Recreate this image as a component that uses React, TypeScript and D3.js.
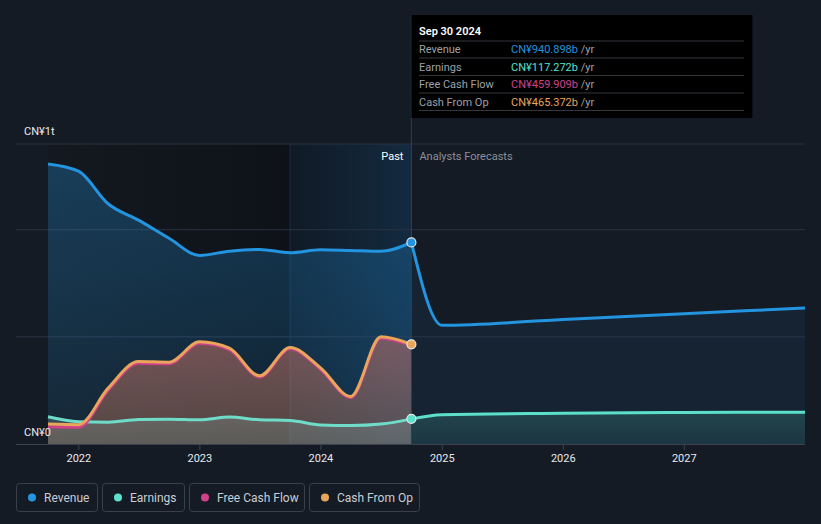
import * as d3 from 'd3'

const W = 821
const H = 524

// past quarterly values, CN¥ billions
const pastDates = ['2021-09-30', '2021-12-31', '2022-03-31', '2022-06-30', '2022-09-30', '2022-12-31', '2023-03-31', '2023-06-30', '2023-09-30', '2023-12-31', '2024-03-31', '2024-06-30', '2024-09-30']
const revenue = [1307, 1273, 1120, 1045, 960, 880, 900, 908, 893, 907, 903, 899, 940.898]
const earnings = [127, 104, 102, 114, 116, 113, 126, 113, 110, 89, 86, 93, 117.272]
const freeCashFlow = [80, 78, 252, 377, 375, 470, 440, 312, 444, 349, 216, 494, 459.909]
const cashFromOp = [93, 90, 262, 385, 382, 477, 447, 318, 450, 355, 222, 500, 465.372]

// analyst forecasts
const fcDates = ['2024-09-30', '2024-12-31', '2025-12-31', '2026-12-31', '2027-12-31']
const revenueFc = [940.898, 554, 581, 608, 635]
const earningsFc = [117.272, 137, 143, 147, 148]

const yearTicks = ['2022', '2023', '2024', '2025', '2026', '2027']

const tooltipRows = [
  ['Revenue', 'CN¥940.898b', '#2394df'],
  ['Earnings', 'CN¥117.272b', '#5ce0cc'],
  ['Free Cash Flow', 'CN¥459.909b', '#d0418a'],
  ['Cash From Op', 'CN¥465.372b', '#e9a55a'],
]

const legendItems = [
  ['Revenue', '#2394df', 16, 81],
  ['Earnings', '#5ce0cc', 102, 82],
  ['Free Cash Flow', '#d0418a', 189, 115],
  ['Cash From Op', '#e9a55a', 309, 110],
]

const parse = d3.timeParse('%Y-%m-%d')

export default function App() {
  const x = d3.scaleTime()
    .domain([parse('2021-09-30')!, parse('2027-12-31')!])
    .range([48, 805])
  const y = d3.scaleLinear().domain([0, 1400]).range([444, 144])

  const pd = pastDates.map(d => parse(d)!)
  const fd = fcDates.map(d => parse(d)!)
  const xNow = x(pd[pd.length - 1])
  const xYear = x(pd[8])

  const line = d3.line<[Date, number]>().x(d => x(d[0])).y(d => y(d[1])).curve(d3.curveMonotoneX)
  const area = d3.area<[Date, number]>().x(d => x(d[0])).y0(y(0)).y1(d => y(d[1])).curve(d3.curveMonotoneX)

  const zip = (ds: Date[], vs: number[]) => ds.map((d, i) => [d, vs[i]] as [Date, number])

  const font = 'Roboto, "Noto Sans", sans-serif'

  return (
    <svg width={W} height={H} style={{ position: 'absolute', left: 0, top: 0, background: '#151b25', fontFamily: font }}>
      <defs>
        <linearGradient id="pastBg" x1="0" x2="1" y1="0" y2="0">
          <stop offset="0" stopColor="#141920" />
          <stop offset="1" stopColor="#0e1218" />
        </linearGradient>
        <linearGradient id="yearBg" x1="0" x2="1" y1="0" y2="0">
          <stop offset="0" stopColor="#101a25" />
          <stop offset="1" stopColor="#132a40" />
        </linearGradient>
        <linearGradient id="revFill" x1="0" x2="0" y1="0" y2="1">
          <stop offset="0" stopColor="#2394df" stopOpacity={0.3} />
          <stop offset="1" stopColor="#2394df" stopOpacity={0.12} />
        </linearGradient>
        <linearGradient id="cfoFill" x1="0" x2="0" y1="0" y2="1">
          <stop offset="0" stopColor="#e9a55a" stopOpacity={0.35} />
          <stop offset="1" stopColor="#e9a55a" stopOpacity={0.25} />
        </linearGradient>
        <linearGradient id="fcfFill" x1="0" x2="0" y1="0" y2="1">
          <stop offset="0" stopColor="#d0418a" stopOpacity={0.2} />
          <stop offset="1" stopColor="#d0418a" stopOpacity={0.05} />
        </linearGradient>
        <linearGradient id="earnFill" x1="0" x2="0" y1="0" y2="1">
          <stop offset="0" stopColor="#8fb5b5" stopOpacity={0.25} />
          <stop offset="1" stopColor="#8fb5b5" stopOpacity={0.2} />
        </linearGradient>
        <linearGradient id="earnFcFill" x1="0" x2="0" y1="0" y2="1">
          <stop offset="0" stopColor="#5ce0cc" stopOpacity={0.18} />
          <stop offset="1" stopColor="#5ce0cc" stopOpacity={0.1} />
        </linearGradient>
      </defs>

      {/* past shading */}
      <rect x={48} y={144} width={xYear - 48} height={300} fill="url(#pastBg)" />
      <rect x={xYear} y={144} width={xNow - xYear} height={300} fill="url(#yearBg)" />
      <line x1={xYear} x2={xYear} y1={144} y2={444} stroke="#1c2e40" strokeWidth={1} />

      {/* gridlines */}
      {[500, 1000, 1400].map(v => (
        <line key={v} x1={16} x2={805} y1={y(v)} y2={y(v)} stroke="#2b3240" strokeWidth={1} />
      ))}

      {/* forecast areas */}
      <path d={area(zip(fd, revenueFc))!} fill="#2394df" fillOpacity={0.07} />
      <path d={area(zip(fd, earningsFc))!} fill="url(#earnFcFill)" />

      {/* past areas */}
      <path d={area(zip(pd, revenue))!} fill="url(#revFill)" />
      <path d={area(zip(pd, cashFromOp))!} fill="url(#cfoFill)" />
      <path d={area(zip(pd, freeCashFlow))!} fill="url(#fcfFill)" />
      <path d={area(zip(pd, earnings))!} fill="url(#earnFill)" />

      {/* today marker */}
      <line x1={xNow} x2={xNow} y1={15} y2={444} stroke="#24425e" strokeWidth={1} />

      {/* lines */}
      <path d={line(zip(fd, revenueFc))!} fill="none" stroke="#2394df" strokeWidth={3} />
      <path d={line(zip(fd, earningsFc))!} fill="none" stroke="#5ce0cc" strokeWidth={3} />
      <path d={line(zip(pd, revenue))!} fill="none" stroke="#2394df" strokeWidth={3} />
      <path d={line(zip(pd, earnings))!} fill="none" stroke="#6fdcc9" strokeWidth={3} />
      <path d={line(zip(pd, freeCashFlow))!} fill="none" stroke="#d0418a" strokeWidth={3} />
      <path d={line(zip(pd, cashFromOp))!} fill="none" stroke="#e9a55a" strokeWidth={3} />

      {/* end dots */}
      {[
        [revenue[12], '#2394df'],
        [cashFromOp[12], '#e9a55a'],
        [earnings[12], '#5ce0cc'],
      ].map(([v, c]) => (
        <circle key={c as string} cx={xNow} cy={y(v as number)} r={4.5} fill={c as string} stroke="#e6e8ea" strokeWidth={1.2} />
      ))}

      {/* axis */}
      <line x1={16} x2={805} y1={444.5} y2={444.5} stroke="#3a4150" strokeWidth={1} />
      {yearTicks.map(t => {
        const xx = x(parse(`${t}-01-01`)!)
        return (
          <g key={t}>
            <line x1={xx} x2={xx} y1={445} y2={450} stroke="#3a4150" />
            <text x={xx} y={462} textAnchor="middle" fill="#e8eaed" fontSize={11}>{t}</text>
          </g>
        )
      })}

      <text x={24} y={135} fill="#e8eaed" fontSize={11}>CN¥1t</text>
      <text x={24} y={436} fill="#e8eaed" fontSize={11}>CN¥0</text>

      <text x={xNow - 8} y={160} textAnchor="end" fill="#ffffff" fontSize={11}>Past</text>
      <text x={xNow + 8} y={160} fill="#8a9099" fontSize={11}>Analysts Forecasts</text>

      {/* tooltip */}
      <rect x={xNow} y={15} width={341} height={103} fill="#000000" />
      <text x={419} y={35} fill="#ffffff" fontSize={11} fontWeight={600}>Sep 30 2024</text>
      {[41, 58, 75.5, 93, 110.5].map(ly => (
        <line key={ly} x1={419} x2={744} y1={ly} y2={ly} stroke="#34373c" strokeWidth={1} />
      ))}
      {tooltipRows.map(([label, val, c], i) => (
        <g key={label}>
          <text x={419} y={53 + i * 17.5} fill="#9da2a9" fontSize={11}>{label}</text>
          <text x={511} y={53 + i * 17.5} fontSize={11}>
            <tspan fill={c}>{val}</tspan>
            <tspan fill="#9da2a9"> /yr</tspan>
          </text>
        </g>
      ))}

      {/* legend */}
      {legendItems.map(([label, c, lx, lw]) => (
        <g key={label as string}>
          <rect x={(lx as number) + 0.5} y={483.5} width={lw as number} height={28} rx={3} fill="none" stroke="#3a404b" />
          <circle cx={(lx as number) + 16} cy={497.5} r={4} fill={c as string} />
          <text x={(lx as number) + 28} y={501.5} fill="#c9cdd3" fontSize={12}>{label}</text>
        </g>
      ))}
    </svg>
  )
}
